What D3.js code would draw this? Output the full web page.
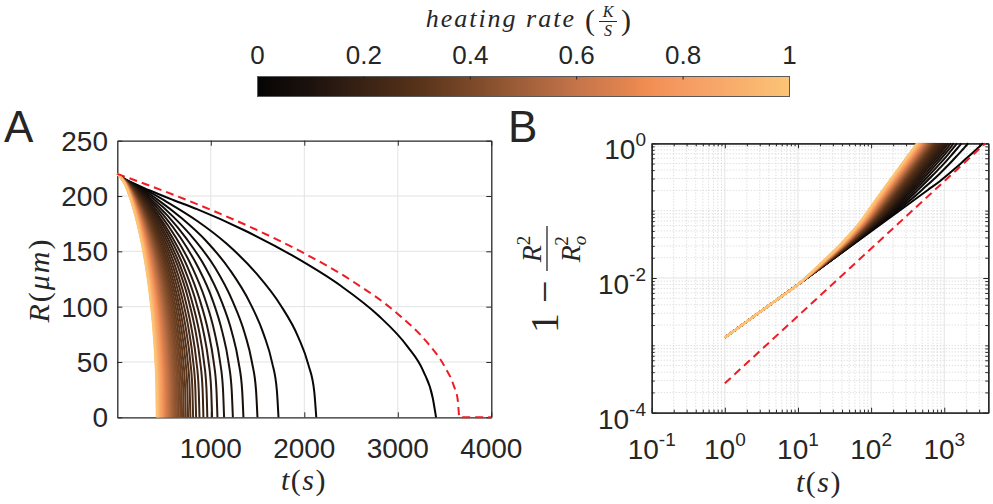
<!DOCTYPE html>
<html>
<head>
<meta charset="utf-8">
<script src="https://cdn.jsdelivr.net/npm/d3@7"></script>
<style>
  body { margin: 0; background: #fff; }
  svg text { fill: #262626; }
  .lbl { font-family: "Liberation Sans", Arial, sans-serif; }
  .math { font-family: "Liberation Serif", "DejaVu Serif", serif; }
</style>
</head>
<body>
<svg id="chart" width="993" height="504"></svg>
<script>
// initial droplet radius (um)
var R0 = 220;

// one curve per heating rate (K/s)
var heatingRates = [0, 0.02, 0.04, 0.06, 0.08, 0.1, 0.12, 0.14, 0.16, 0.18,
  0.2, 0.22, 0.24, 0.26, 0.28, 0.3, 0.32, 0.34, 0.36, 0.38,
  0.4, 0.42, 0.44, 0.46, 0.48, 0.5, 0.52, 0.54, 0.56, 0.58,
  0.6, 0.62, 0.64, 0.66, 0.68, 0.7, 0.72, 0.74, 0.76, 0.78,
  0.8, 0.82, 0.84, 0.86, 0.88, 0.9, 0.92, 0.94, 0.96, 0.98, 1];

// droplet lifetime (s), where each curve reaches R = 0 in panel A
var lifetimes = [3409, 2128, 1724, 1499, 1349, 1236, 1142, 1071, 1014, 963,
  921, 879, 843, 811, 782, 757, 733, 712, 693, 675,
  658, 643, 628, 615, 602, 591, 580, 569, 559, 550,
  541, 532, 524, 516, 509, 502, 495, 488, 482, 476,
  470, 465, 459, 454, 449, 444, 439, 435, 430, 426, 422];

// early part, the same for every curve (panel B, t = 1..10 s)
var earlyTimes = [1, 2, 5, 10];
var earlyFraction = [0.00131, 0.00226, 0.00466, 0.0080];

// 1 - R^2/R0^2 at these fractions of each curve's lifetime
var lifeFractions = [0.05, 0.1, 0.175, 0.25, 0.4, 0.55, 0.7, 0.82, 0.91, 0.96, 0.99];
var evaporated = [
  [0.0754, 0.130, 0.2028, 0.269, 0.411, 0.559, 0.707, 0.826, 0.915, 0.964, 0.994],
  [0.0530, 0.095, 0.1546, 0.218, 0.348, 0.492, 0.652, 0.787, 0.892, 0.953, 0.989],
  [0.0455, 0.082, 0.1377, 0.200, 0.332, 0.474, 0.635, 0.775, 0.886, 0.949, 0.988],
  [0.0411, 0.076, 0.1280, 0.189, 0.322, 0.467, 0.625, 0.769, 0.882, 0.948, 0.988],
  [0.0381, 0.071, 0.1213, 0.182, 0.315, 0.463, 0.622, 0.765, 0.880, 0.947, 0.988],
  [0.0357, 0.067, 0.1161, 0.176, 0.310, 0.459, 0.621, 0.762, 0.879, 0.946, 0.988],
  [0.0338, 0.064, 0.1117, 0.171, 0.305, 0.456, 0.619, 0.762, 0.877, 0.945, 0.987],
  [0.0322, 0.061, 0.1083, 0.168, 0.303, 0.454, 0.618, 0.763, 0.878, 0.945, 0.987],
  [0.0311, 0.059, 0.1056, 0.164, 0.298, 0.450, 0.617, 0.762, 0.878, 0.945, 0.987],
  [0.0299, 0.057, 0.1028, 0.161, 0.295, 0.447, 0.614, 0.761, 0.877, 0.945, 0.986],
  [0.0290, 0.056, 0.1007, 0.159, 0.292, 0.445, 0.612, 0.759, 0.877, 0.945, 0.986],
  [0.0281, 0.054, 0.0986, 0.156, 0.290, 0.442, 0.610, 0.758, 0.876, 0.944, 0.986],
  [0.0272, 0.053, 0.0967, 0.154, 0.287, 0.440, 0.608, 0.757, 0.875, 0.944, 0.986],
  [0.0265, 0.051, 0.0950, 0.152, 0.285, 0.438, 0.607, 0.756, 0.875, 0.944, 0.986],
  [0.0258, 0.050, 0.0933, 0.150, 0.283, 0.436, 0.605, 0.755, 0.874, 0.943, 0.986],
  [0.0252, 0.049, 0.0920, 0.148, 0.281, 0.434, 0.604, 0.754, 0.874, 0.943, 0.986],
  [0.0247, 0.048, 0.0907, 0.147, 0.280, 0.433, 0.603, 0.753, 0.873, 0.943, 0.986],
  [0.0242, 0.047, 0.0895, 0.145, 0.278, 0.431, 0.602, 0.752, 0.873, 0.943, 0.986],
  [0.0237, 0.047, 0.0884, 0.144, 0.277, 0.430, 0.601, 0.752, 0.873, 0.943, 0.986],
  [0.0232, 0.046, 0.0873, 0.143, 0.275, 0.429, 0.600, 0.751, 0.872, 0.942, 0.986],
  [0.0229, 0.045, 0.0865, 0.142, 0.274, 0.428, 0.599, 0.750, 0.872, 0.942, 0.986],
  [0.0225, 0.045, 0.0856, 0.141, 0.273, 0.427, 0.598, 0.750, 0.872, 0.942, 0.986],
  [0.0222, 0.044, 0.0848, 0.140, 0.272, 0.426, 0.597, 0.749, 0.871, 0.942, 0.986],
  [0.0218, 0.044, 0.0839, 0.139, 0.271, 0.425, 0.596, 0.749, 0.871, 0.942, 0.986],
  [0.0214, 0.043, 0.0831, 0.138, 0.270, 0.424, 0.596, 0.748, 0.871, 0.942, 0.986],
  [0.0213, 0.043, 0.0827, 0.138, 0.269, 0.423, 0.595, 0.748, 0.871, 0.942, 0.986],
  [0.0210, 0.042, 0.0820, 0.137, 0.268, 0.423, 0.595, 0.748, 0.870, 0.942, 0.986],
  [0.0207, 0.042, 0.0814, 0.136, 0.268, 0.422, 0.594, 0.747, 0.870, 0.942, 0.986],
  [0.0204, 0.041, 0.0808, 0.135, 0.267, 0.421, 0.593, 0.747, 0.870, 0.941, 0.986],
  [0.0203, 0.041, 0.0803, 0.135, 0.266, 0.421, 0.593, 0.746, 0.870, 0.941, 0.986],
  [0.0200, 0.040, 0.0797, 0.134, 0.266, 0.420, 0.592, 0.746, 0.870, 0.941, 0.986],
  [0.0198, 0.040, 0.0793, 0.134, 0.265, 0.419, 0.592, 0.746, 0.869, 0.941, 0.986],
  [0.0195, 0.040, 0.0786, 0.133, 0.264, 0.419, 0.591, 0.745, 0.869, 0.941, 0.986],
  [0.0193, 0.039, 0.0782, 0.132, 0.264, 0.418, 0.591, 0.745, 0.869, 0.941, 0.985],
  [0.0192, 0.039, 0.0778, 0.132, 0.263, 0.418, 0.591, 0.745, 0.869, 0.941, 0.985],
  [0.0190, 0.039, 0.0774, 0.131, 0.263, 0.417, 0.590, 0.745, 0.869, 0.941, 0.985],
  [0.0189, 0.039, 0.0772, 0.131, 0.262, 0.417, 0.590, 0.744, 0.869, 0.941, 0.985],
  [0.0187, 0.038, 0.0767, 0.131, 0.262, 0.416, 0.590, 0.744, 0.869, 0.941, 0.985],
  [0.0185, 0.038, 0.0763, 0.130, 0.261, 0.416, 0.589, 0.744, 0.868, 0.941, 0.985],
  [0.0183, 0.038, 0.0759, 0.130, 0.261, 0.415, 0.589, 0.744, 0.868, 0.941, 0.985],
  [0.0183, 0.038, 0.0757, 0.129, 0.260, 0.415, 0.589, 0.744, 0.868, 0.941, 0.985],
  [0.0181, 0.037, 0.0752, 0.129, 0.260, 0.415, 0.588, 0.743, 0.868, 0.941, 0.985],
  [0.0179, 0.037, 0.0748, 0.128, 0.259, 0.414, 0.588, 0.743, 0.868, 0.940, 0.985],
  [0.0178, 0.037, 0.0746, 0.128, 0.259, 0.414, 0.588, 0.743, 0.868, 0.940, 0.985],
  [0.0177, 0.037, 0.0744, 0.128, 0.259, 0.414, 0.587, 0.743, 0.868, 0.940, 0.985],
  [0.0175, 0.036, 0.0740, 0.127, 0.258, 0.413, 0.587, 0.742, 0.868, 0.940, 0.985],
  [0.0174, 0.036, 0.0738, 0.127, 0.258, 0.413, 0.587, 0.742, 0.867, 0.940, 0.985],
  [0.0173, 0.036, 0.0735, 0.127, 0.258, 0.413, 0.587, 0.742, 0.867, 0.940, 0.985],
  [0.0172, 0.036, 0.0731, 0.126, 0.257, 0.412, 0.586, 0.742, 0.867, 0.940, 0.985],
  [0.0171, 0.036, 0.0729, 0.126, 0.257, 0.412, 0.586, 0.742, 0.867, 0.940, 0.985],
  [0.0170, 0.035, 0.0727, 0.126, 0.257, 0.412, 0.586, 0.742, 0.867, 0.940, 0.985]
];

// red dashed reference (d^2 law)
var d2Times = [0, 1, 500, 1000, 1500, 2000, 2500, 3000, 3300, 3500, 3600, 3640, 3660, 4000];
var d2Fraction = [0, 0.000273, 0.1366, 0.2732, 0.4098, 0.5464, 0.6831, 0.8197,
  0.9016, 0.9563, 0.9836, 0.9945, 1, 1];

// colormap of the heating rate
var cmapStops = [0, 0.1, 0.2, 0.3, 0.4, 0.5, 0.6, 0.7, 0.73, 0.8, 0.9, 1];
var cmapColors = ["#050505", "#1c120d", "#3a2214", "#563219", "#7a4828", "#a05f39",
  "#c5744a", "#e4854f", "#f28d52", "#f59b62", "#f8ae6c", "#fcc476"];
var cbarTicks = [0, 0.2, 0.4, 0.6, 0.8, 1];
var cbarLabels = ["0", "0.2", "0.4", "0.6", "0.8", "1"];

// axis ticks
var xTicksA = [1000, 2000, 3000, 4000];
var yTicksA = [0, 50, 100, 150, 200, 250];
var xTicksB = [0.1, 1, 10, 100, 1000];
var xExpB = ["-1", "0", "1", "2", "3"];
var yTicksB = [1e-4, 1e-2, 1];
var yExpB = ["-4", "-2", "0"];

var svg = d3.select("#chart");
var ink = "#262626";

var colour = d3.scaleLinear().domain(cmapStops).range(cmapColors)
    .interpolate(d3.interpolateRgb);

// build the points of each curve
var curves = heatingRates.map(function(rate, i) {
  var pts = [];
  earlyTimes.forEach(function(t, j) { pts.push({t: t, f: earlyFraction[j]}); });
  lifeFractions.forEach(function(s, j) {
    pts.push({t: s * lifetimes[i], f: evaporated[i][j]});
  });
  pts.push({t: lifetimes[i], f: 1});
  return {rate: rate, pts: pts};
});
var d2 = d2Times.map(function(t, j) { return {t: t, f: d2Fraction[j]}; });

function radius(f) { return R0 * Math.sqrt(Math.max(0, 1 - f)); }

// ---------------- colorbar ----------------
var cb = {x0: 257.5, x1: 789.5, y0: 76.5, h: 20};
var xCb = d3.scaleLinear().domain([0, 1]).range([cb.x0, cb.x1]);
var grad = svg.append("defs").append("linearGradient").attr("id", "cmap");
grad.selectAll("stop").data(cmapStops).enter().append("stop")
    .attr("offset", function(d) { return (d * 100) + "%"; })
    .attr("stop-color", function(d, i) { return cmapColors[i]; });
svg.append("rect")
    .attr("x", cb.x0).attr("y", cb.y0)
    .attr("width", cb.x1 - cb.x0).attr("height", cb.h)
    .attr("fill", "url(#cmap)")
    .attr("stroke", "#5a5a5a").attr("stroke-width", 1);
svg.append("g").selectAll("line").data(cbarTicks.slice(1, -1)).enter().append("line")
    .attr("x1", function(d) { return xCb(d); }).attr("x2", function(d) { return xCb(d); })
    .attr("y1", cb.y0).attr("y2", cb.y0 + 3)
    .attr("stroke", ink).attr("stroke-width", 1);
svg.append("g").selectAll("text").data(cbarTicks).enter().append("text")
    .attr("class", "lbl")
    .attr("x", function(d) { return xCb(d); })
    .attr("y", 64)
    .attr("text-anchor", "middle")
    .style("font-size", "26px")
    .text(function(d, i) { return cbarLabels[i]; });

// colorbar title: heating rate (K/S)
var title = svg.append("g").attr("class", "math");
title.append("text").attr("x", 576).attr("y", 27).attr("text-anchor", "end")
    .style("font-style", "italic").style("font-size", "26px").style("letter-spacing", "2px")
    .text("heating rate");
title.append("text").attr("x", 585).attr("y", 30).style("font-size", "30px").text("(");
title.append("text").attr("x", 608).attr("y", 17).attr("text-anchor", "middle")
    .style("font-style", "italic").style("font-size", "16px").text("K");
title.append("line").attr("x1", 599).attr("x2", 617).attr("y1", 21.5).attr("y2", 21.5)
    .attr("stroke", ink).attr("stroke-width", 1);
title.append("text").attr("x", 608).attr("y", 36).attr("text-anchor", "middle")
    .style("font-style", "italic").style("font-size", "16px").text("S");
title.append("text").attr("x", 621).attr("y", 30).style("font-size", "30px").text(")");

// ---------------- panel A ----------------
var xA = d3.scaleLinear().domain([0, 4000]).range([117.3, 491.3]);
var yA = d3.scaleLinear().domain([0, 250]).range([417.3, 140.7]);
var gA = svg.append("g");

gA.append("g").selectAll("line").data([1000, 2000, 3000]).enter().append("line")
    .attr("x1", function(d) { return xA(d); }).attr("x2", function(d) { return xA(d); })
    .attr("y1", yA(0)).attr("y2", yA(250))
    .attr("stroke", "#e3e3e3").attr("stroke-width", 1);
gA.append("g").selectAll("line").data([50, 100, 150, 200]).enter().append("line")
    .attr("x1", xA(0)).attr("x2", xA(4000))
    .attr("y1", function(d) { return yA(d); }).attr("y2", function(d) { return yA(d); })
    .attr("stroke", "#e3e3e3").attr("stroke-width", 1);

function boxAxes(g, x, y, xt, yt, minorX, minorY) {
  var xr = x.range(), yr = y.range();
  var parts = [
    g.append("g").attr("transform", "translate(0," + yr[0] + ")")
      .call(d3.axisBottom(x).tickValues(xt).tickSize(-5).tickSizeOuter(0).tickFormat("")),
    g.append("g").attr("transform", "translate(0," + yr[1] + ")")
      .call(d3.axisTop(x).tickValues(xt).tickSize(-5).tickSizeOuter(0).tickFormat("")),
    g.append("g").attr("transform", "translate(" + xr[0] + ",0)")
      .call(d3.axisLeft(y).tickValues(yt).tickSize(-5).tickSizeOuter(0).tickFormat("")),
    g.append("g").attr("transform", "translate(" + xr[1] + ",0)")
      .call(d3.axisRight(y).tickValues(yt).tickSize(-5).tickSizeOuter(0).tickFormat(""))
  ];
  if (minorX) {
    parts.push(g.append("g").attr("transform", "translate(0," + yr[0] + ")")
      .call(d3.axisBottom(x).tickValues(minorX).tickSize(-3).tickSizeOuter(0).tickFormat("")));
    parts.push(g.append("g").attr("transform", "translate(0," + yr[1] + ")")
      .call(d3.axisTop(x).tickValues(minorX).tickSize(-3).tickSizeOuter(0).tickFormat("")));
  }
  if (minorY) {
    parts.push(g.append("g").attr("transform", "translate(" + xr[0] + ",0)")
      .call(d3.axisLeft(y).tickValues(minorY).tickSize(-3).tickSizeOuter(0).tickFormat("")));
    parts.push(g.append("g").attr("transform", "translate(" + xr[1] + ",0)")
      .call(d3.axisRight(y).tickValues(minorY).tickSize(-3).tickSizeOuter(0).tickFormat("")));
  }
  parts.forEach(function(p) {
    p.selectAll("path").attr("stroke", ink).attr("stroke-width", 1.3);
    p.selectAll("line").attr("stroke", ink).attr("stroke-width", 1);
  });
}
boxAxes(gA, xA, yA, xTicksA, yTicksA);

gA.append("g").selectAll("text").data(xTicksA).enter().append("text")
    .attr("class", "lbl").attr("x", function(d) { return xA(d); }).attr("y", 458)
    .attr("text-anchor", "middle").style("font-size", "28px")
    .text(function(d) { return d; });
gA.append("g").selectAll("text").data(yTicksA).enter().append("text")
    .attr("class", "lbl").attr("x", 108).attr("y", function(d) { return yA(d) + 10; })
    .attr("text-anchor", "end").style("font-size", "28px")
    .text(function(d) { return d; });

var lineA = d3.line()
    .x(function(d) { return xA(d.t); })
    .y(function(d) { return yA(radius(d.f)); })
    .curve(d3.curveMonotoneX);

gA.append("g").selectAll("path").data(curves).enter().append("path")
    .attr("d", function(c) { return lineA([{t: 0, f: 0}].concat(c.pts)); })
    .attr("fill", "none")
    .attr("stroke", function(c) { return colour(c.rate); })
    .attr("stroke-width", 2);

gA.append("path").attr("d", lineA(d2))
    .attr("fill", "none").attr("stroke", "#ee1c25")
    .attr("stroke-width", 2).attr("stroke-dasharray", "8,5");

gA.append("text").attr("class", "lbl").attr("x", 4).attr("y", 142)
    .style("font-size", "44px").text("A");

var xlabA = gA.append("text").attr("class", "math").attr("x", 304).attr("y", 490)
    .attr("text-anchor", "middle").style("font-size", "30px").style("letter-spacing", "1.5px");
xlabA.append("tspan").style("font-style", "italic").text("t");
xlabA.append("tspan").text("(");
xlabA.append("tspan").style("font-style", "italic").text("s");
xlabA.append("tspan").text(")");

var ylabA = gA.append("text").attr("class", "math")
    .attr("transform", "translate(49,280) rotate(-90)")
    .attr("text-anchor", "middle").style("font-size", "30px").style("letter-spacing", "2px");
ylabA.append("tspan").style("font-style", "italic").text("R");
ylabA.append("tspan").text("(");
ylabA.append("tspan").style("font-style", "italic").text("\u03bcm");
ylabA.append("tspan").text(")");

// ---------------- panel B ----------------
var xB = d3.scaleLog().domain([0.1, 4000]).range([651.7, 988.3]);
var yB = d3.scaleLog().domain([1e-4, 1]).range([412.7, 143.3]);
var gB = svg.append("g");

function isMajor(v, list) {
  return list.some(function(m) { return Math.abs(Math.log10(v) - Math.log10(m)) < 1e-6; });
}
var minorXB = xB.ticks().filter(function(v) { return !isMajor(v, xTicksB) && v < 4000; });
var minorYB = yB.ticks().filter(function(v) { return !isMajor(v, yTicksB); });

gB.append("g").selectAll("line").data(minorXB).enter().append("line")
    .attr("x1", function(d) { return xB(d); }).attr("x2", function(d) { return xB(d); })
    .attr("y1", yB(1e-4)).attr("y2", yB(1))
    .attr("stroke", "#d2d2d2").attr("stroke-width", 1).attr("stroke-dasharray", "1,2");
gB.append("g").selectAll("line").data(minorYB).enter().append("line")
    .attr("x1", xB(0.1)).attr("x2", xB(4000))
    .attr("y1", function(d) { return yB(d); }).attr("y2", function(d) { return yB(d); })
    .attr("stroke", "#d2d2d2").attr("stroke-width", 1).attr("stroke-dasharray", "1,2");
gB.append("g").selectAll("line").data(xTicksB.slice(1)).enter().append("line")
    .attr("x1", function(d) { return xB(d); }).attr("x2", function(d) { return xB(d); })
    .attr("y1", yB(1e-4)).attr("y2", yB(1))
    .attr("stroke", "#e3e3e3").attr("stroke-width", 1);
gB.append("g").selectAll("line").data([1e-2]).enter().append("line")
    .attr("x1", xB(0.1)).attr("x2", xB(4000))
    .attr("y1", function(d) { return yB(d); }).attr("y2", function(d) { return yB(d); })
    .attr("stroke", "#e3e3e3").attr("stroke-width", 1);

boxAxes(gB, xB, yB, xTicksB, yTicksB, minorXB, minorYB);

var xlB = gB.append("g").selectAll("text").data(xTicksB).enter().append("text")
    .attr("class", "lbl").attr("x", function(d) { return xB(d); }).attr("y", 459)
    .attr("text-anchor", "middle").style("font-size", "28px");
xlB.append("tspan").text("10");
xlB.append("tspan").attr("dy", -13).style("font-size", "19px")
    .text(function(d, i) { return xExpB[i]; });

var ylB = gB.append("g").selectAll("text").data(yTicksB).enter().append("text")
    .attr("class", "lbl").attr("x", 646).attr("y", function(d) { return yB(d) + 16; })
    .attr("text-anchor", "end").style("font-size", "28px");
ylB.append("tspan").text("10");
ylB.append("tspan").attr("dy", -13).style("font-size", "19px")
    .text(function(d, i) { return yExpB[i]; });

var lineB = d3.line()
    .x(function(d) { return xB(d.t); })
    .y(function(d) { return yB(d.f); })
    .curve(d3.curveMonotoneX);

gB.append("g").selectAll("path").data(curves).enter().append("path")
    .attr("d", function(c) { return lineB(c.pts); })
    .attr("fill", "none")
    .attr("stroke", function(c) { return colour(c.rate); })
    .attr("stroke-width", 2);

gB.append("path")
    .attr("d", lineB(d2.filter(function(d) { return d.t >= 1 && d.t <= 3660; })))
    .attr("fill", "none").attr("stroke", "#ee1c25")
    .attr("stroke-width", 2).attr("stroke-dasharray", "8,5");

gB.append("text").attr("class", "lbl").attr("x", 508).attr("y", 142)
    .style("font-size", "44px").text("B");

var xlabB = gB.append("text").attr("class", "math").attr("x", 819).attr("y", 492)
    .attr("text-anchor", "middle").style("font-size", "30px").style("letter-spacing", "1.5px");
xlabB.append("tspan").style("font-style", "italic").text("t");
xlabB.append("tspan").text("(");
xlabB.append("tspan").style("font-style", "italic").text("s");
xlabB.append("tspan").text(")");

// y label: 1 - R^2 / R_o^2, rotated
var ylabB = gB.append("g").attr("class", "math").attr("transform", "translate(558,333) rotate(-90)");
ylabB.append("text").attr("x", 0).attr("y", 0).style("font-size", "40px").text("1");
ylabB.append("text").attr("x", 30).attr("y", 0).style("font-size", "40px").text("\u2212");
ylabB.append("line").attr("x1", 62).attr("x2", 107).attr("y1", -11).attr("y2", -11)
    .attr("stroke", ink).attr("stroke-width", 1.3);
var num = ylabB.append("text").attr("x", 84).attr("y", -17).attr("text-anchor", "middle")
    .style("font-size", "28px");
num.append("tspan").style("font-style", "italic").text("R");
num.append("tspan").attr("dy", -11).style("font-size", "19px").text("2");
var den = ylabB.append("text").attr("x", 84).attr("y", 22).attr("text-anchor", "middle")
    .style("font-size", "28px");
den.append("tspan").style("font-style", "italic").text("R");
den.append("tspan").attr("dy", 6).style("font-size", "19px").style("font-style", "italic").text("o");
den.append("tspan").attr("dx", -10).attr("dy", -18).style("font-size", "19px").text("2");
</script>
</body>
</html>
